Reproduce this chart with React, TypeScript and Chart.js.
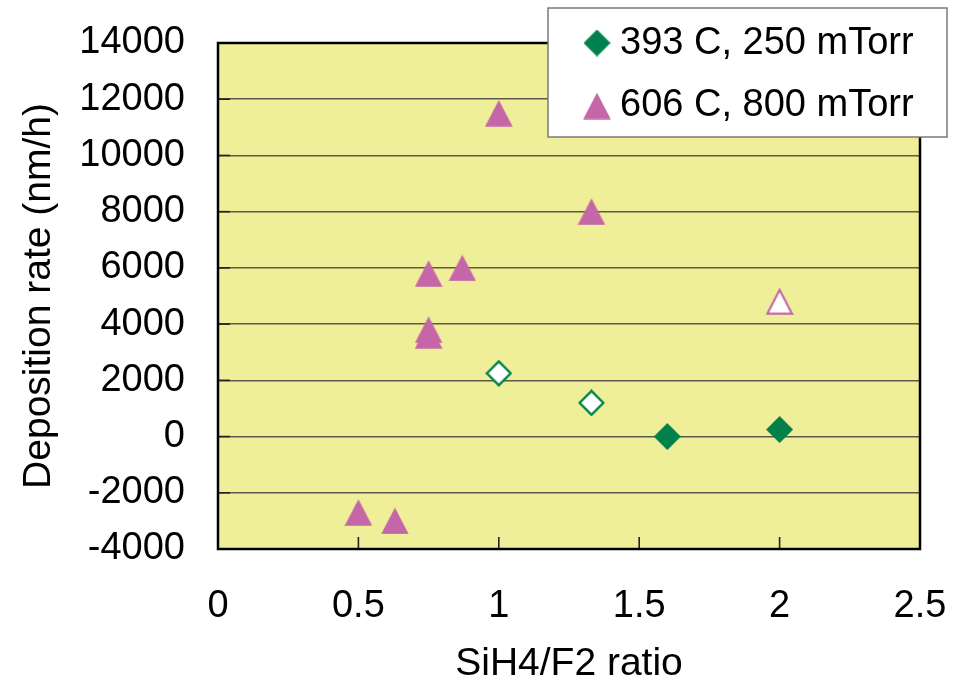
import React, { useEffect, useRef } from 'react';
import { Chart, registerables } from 'chart.js';

Chart.register(...registerables);

// ---- data ----
const seriesNames = ['393 C, 250 mTorr', '606 C, 800 mTorr'];
const lowTRatio = [1.0, 1.33, 1.6, 2.0];
const lowTRate = [2250, 1200, 0, 250];
const lowTHollow = [true, true, false, false];
const highTRatio = [1.0, 1.33, 0.75, 0.87, 0.75, 0.75, 0.5, 0.63, 2.0];
const highTRate = [11500, 8000, 5800, 6000, 3800, 3600, -2700, -3000, 4800];
const highTHollow = [false, false, false, false, false, false, false, false, true];
const xRange = [0, 2.5];
const xStep = 0.5;
const yRange = [-4000, 14000];
const yStep = 2000;
const xTitle = 'SiH4/F2 ratio';
const yTitle = 'Deposition rate (nm/h)';

// ---- styles ----
const GREEN = '#00804a';
const PINK = '#c566a8';
const PLOT_BG = '#f0ef99';
const GRID = '#5a5a46';
const FONT = "'Liberation Sans', Arial, sans-serif";

function makeTriangle(hollow: boolean): HTMLCanvasElement {
  const c = document.createElement('canvas');
  c.width = 28;
  c.height = 27;
  const g = c.getContext('2d')!;
  g.beginPath();
  if (hollow) {
    g.moveTo(14, 1.8);
    g.lineTo(26.3, 25.6);
    g.lineTo(1.7, 25.6);
  } else {
    g.moveTo(14, 0.3);
    g.lineTo(27.8, 26.8);
    g.lineTo(0.2, 26.8);
  }
  g.closePath();
  if (hollow) {
    g.fillStyle = '#ffffff';
    g.fill();
    g.lineWidth = 2.2;
    g.strokeStyle = PINK;
    g.stroke();
  } else {
    g.fillStyle = PINK;
    g.fill();
  }
  return c;
}

function makeDiamond(hollow: boolean): HTMLCanvasElement {
  const c = document.createElement('canvas');
  c.width = 27;
  c.height = 27;
  const g = c.getContext('2d')!;
  g.beginPath();
  if (hollow) {
    g.moveTo(13.5, 1.6);
    g.lineTo(25.4, 13.5);
    g.lineTo(13.5, 25.4);
    g.lineTo(1.6, 13.5);
  } else {
    g.moveTo(13.5, 0);
    g.lineTo(27, 13.5);
    g.lineTo(13.5, 27);
    g.lineTo(0, 13.5);
  }
  g.closePath();
  if (hollow) {
    g.fillStyle = '#ffffff';
    g.fill();
    g.lineWidth = 2.4;
    g.strokeStyle = GREEN;
    g.stroke();
  } else {
    g.fillStyle = GREEN;
    g.fill();
  }
  return c;
}

function zeroPad(s: any) {
  s.paddingTop = 0;
  s.paddingBottom = 0;
  s.paddingLeft = 0;
  s.paddingRight = 0;
}

export default function App() {
  const ref = useRef<HTMLCanvasElement | null>(null);

  useEffect(() => {
    if (!ref.current) return;
    const triFull = makeTriangle(false);
    const triOpen = makeTriangle(true);
    const diaFull = makeDiamond(false);
    const diaOpen = makeDiamond(true);

    const framePlugin = {
      id: 'framePlugin',
      beforeDraw(chart: any) {
        const { ctx, chartArea: a } = chart;
        ctx.save();
        ctx.fillStyle = PLOT_BG;
        ctx.fillRect(a.left, a.top, a.right - a.left, a.bottom - a.top);
        ctx.restore();
      },
      beforeDatasetsDraw(chart: any) {
        const { ctx, chartArea: a } = chart;
        const xs = chart.scales.x;
        const ys = chart.scales.y;
        ctx.save();
        ctx.strokeStyle = '#222222';
        ctx.lineWidth = 1.6;
        ys.ticks.forEach((t: any) => {
          const y = ys.getPixelForValue(t.value);
          ctx.beginPath();
          ctx.moveTo(a.left, y);
          ctx.lineTo(a.left + 12, y);
          ctx.stroke();
        });
        xs.ticks.forEach((t: any) => {
          const x = xs.getPixelForValue(t.value);
          ctx.beginPath();
          ctx.moveTo(x, a.bottom);
          ctx.lineTo(x, a.bottom - 12);
          ctx.stroke();
        });
        ctx.strokeStyle = '#000000';
        ctx.lineWidth = 2.5;
        ctx.strokeRect(a.left, a.top, a.right - a.left, a.bottom - a.top);
        ctx.restore();
      },
      afterDraw(chart: any) {
        const { ctx } = chart;
        ctx.save();
        ctx.fillStyle = '#ffffff';
        ctx.fillRect(548, 8, 399, 129);
        ctx.strokeStyle = '#7a7a7a';
        ctx.lineWidth = 1.5;
        ctx.strokeRect(548, 8, 399, 129);
        ctx.drawImage(diaFull, 597 - 13.5, 43 - 13.5);
        ctx.drawImage(triFull, 597 - 14, 106 - 13.5);
        ctx.fillStyle = '#000000';
        ctx.font = `38px ${FONT}`;
        ctx.textAlign = 'left';
        ctx.textBaseline = 'middle';
        ctx.fillText(seriesNames[0], 620, 44);
        ctx.fillText(seriesNames[1], 620, 106);
        ctx.restore();
      },
    };

    const chart = new Chart(ref.current, {
      type: 'scatter',
      data: {
        datasets: [
          {
            label: seriesNames[0],
            data: lowTRatio.map((x, i) => ({ x, y: lowTRate[i] })),
            pointStyle: lowTHollow.map((h) => (h ? diaOpen : diaFull)) as any,
            backgroundColor: GREEN,
            borderColor: GREEN,
          },
          {
            label: seriesNames[1],
            data: highTRatio.map((x, i) => ({ x, y: highTRate[i] })),
            pointStyle: highTHollow.map((h) => (h ? triOpen : triFull)) as any,
            backgroundColor: PINK,
            borderColor: PINK,
          },
        ],
      },
      plugins: [framePlugin],
      options: {
        responsive: false,
        animation: false,
        events: [],
        layout: { padding: { top: 43, right: 41, left: 0, bottom: 0 } },
        plugins: {
          legend: { display: false },
          tooltip: { enabled: false },
        },
        scales: {
          x: {
            type: 'linear',
            min: xRange[0],
            max: xRange[1],
            grid: { display: false, drawTicks: false },
            border: { display: false },
            ticks: {
              stepSize: xStep,
              padding: 35,
              color: '#000000',
              font: { family: FONT, size: 38 },
              callback: (v: any) => String(v),
              maxRotation: 0,
            },
            title: {
              display: true,
              text: xTitle,
              color: '#000000',
              font: { family: FONT, size: 39, lineHeight: 1 },
              padding: { top: 0, bottom: 0 },
            },
            afterFit: (s: any) => {
              s.height = 135;
              zeroPad(s);
            },
          },
          y: {
            type: 'linear',
            min: yRange[0],
            max: yRange[1],
            grid: { display: true, drawTicks: false, color: GRID, lineWidth: 1.5 },
            border: { display: false },
            ticks: {
              stepSize: yStep,
              padding: 33,
              color: '#000000',
              font: { family: FONT, size: 38 },
              callback: (v: any) => String(v),
            },
            title: {
              display: true,
              text: yTitle,
              color: '#000000',
              font: { family: FONT, size: 39, lineHeight: 1 },
              padding: { top: 20, bottom: 0 },
            },
            afterFit: (s: any) => {
              s.width = 218;
              zeroPad(s);
            },
          },
        },
      },
    } as any);

    return () => {
      chart.destroy();
    };
  }, []);

  return (
    <div style={{ position: 'absolute', left: 0, top: 0, width: 961, height: 684, background: '#ffffff' }}>
      <canvas ref={ref} width={961} height={684} style={{ display: 'block' }} />
    </div>
  );
}
